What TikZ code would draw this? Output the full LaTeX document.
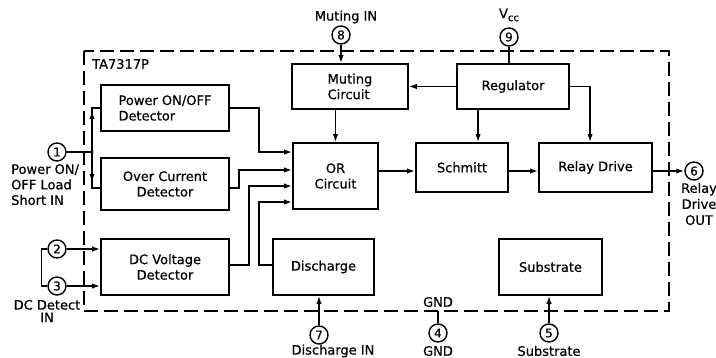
\documentclass[tikz,border=0pt]{standalone}
\usepackage{fontspec}
\setmainfont{DejaVu Sans}[FakeBold=0.6,AutoFakeBold=0.6]
\usetikzlibrary{arrows.meta,calc}
\newcommand\fsz{\fontsize{13}{15.5}\selectfont}
\begin{document}
\begin{tikzpicture}[x=1pt,y=-1pt,
  box/.style={draw,line width=1.9pt,inner sep=0pt,font=\fsz\bfseries,align=center},
  pin/.style={draw,circle,line width=1.4pt,minimum size=18pt,inner sep=0pt,font=\fontsize{12}{12}\selectfont\bfseries},
  lbl/.style={inner sep=0pt,font=\fsz\bfseries},
  conn/.style={line width=1.5pt},
  arr/.style={line width=1.5pt,-{Latex[length=8pt,width=5.5pt]}},
  border/.style={line width=1.9pt,dash pattern=on 14pt off 6pt}]
\useasboundingbox (0,0) rectangle (716,358);
% border
\draw[border] (84,51) rectangle (669,311);
\node[lbl,anchor=west] (title) at (92,64) {TA7317P};
% boxes
\node[box,minimum width=128pt,minimum height=46pt,align=left] (PD) at (165,108) {Power ON/OFF\\Detector};
\node[box,minimum width=128pt,minimum height=52pt] (OC) at (165,184) {Over Current\\Detector};
\node[box,minimum width=128pt,minimum height=56pt] (DC) at (165,267) {DC Voltage\\Detector};
\node[box,minimum width=116pt,minimum height=45pt,align=left] (MU) at (350,86.5) {Muting\\Circuit};
\node[box,minimum width=112pt,minimum height=45pt] (RG) at (513,86.5) {Regulator};
\node[box,minimum width=85pt,minimum height=66pt] (OR) at (335.5,176) {OR\\Circuit};
\node[box,minimum width=92pt,minimum height=49pt] (SC) at (462,167.5) {Schmitt};
\node[box,minimum width=113pt,minimum height=49pt] (RD) at (595.5,167.5) {Relay Drive};
\node[box,minimum width=101pt,minimum height=56pt] (DS) at (323.5,267) {Discharge};
\node[box,minimum width=103pt,minimum height=56pt] (SB) at (550.5,267) {Substrate};
% pins
\node[pin] (p1) at (57,152) {1};
\node[pin] (p2) at (57,249) {2};
\node[pin] (p3) at (57,286) {3};
\node[pin] (p4) at (438,333) {4};
\node[pin] (p5) at (549,333) {5};
\node[pin] (p6) at (694,171) {6};
\node[pin] (p7) at (319,335) {7};
\node[pin] (p8) at (341,35) {8};
\node[pin] (p9) at (509,37) {9};
% pin labels
\node[lbl] (l8) at (346,17) {Muting IN};
\node[lbl] (l9) at (509,15) {V\raisebox{-3pt}{\fontsize{10}{10}\selectfont\bfseries cc}};
\node[lbl,align=left,anchor=north west] (l1) at (11,164) {Power ON/\\OFF Load\\Short IN};
\node[lbl,align=center,font=\fontsize{13}{12.5}\selectfont\bfseries] (l23) at (47,311) {DC Detect\\IN};
\node[lbl,align=center,font=\fontsize{13}{16}\selectfont\bfseries] (l6) at (699,204) {Relay\\Drive\\OUT};
\node[lbl] (l7) at (333,351) {Discharge IN};
\node[lbl] (l4) at (438,351) {GND};
\node[lbl] (l4b) at (438,302) {GND};
\node[lbl] (l5) at (549,351) {Substrate};
% helper coordinates
\coordinate (sig) at (0,171);
\coordinate (j1) at (92,152);
\coordinate (bb) at (0,311);
% pin 1 split
\draw[conn] (p1.east) -- (j1);
\fill (j1) circle (1.6pt);
\draw[conn] (j1) |- (PD.west);
\draw[arr] (j1) -- ++(0,-41);
\draw[conn] (j1) |- ($(OC.west)+(0,4)$);
\draw[arr] (j1) -- ++(0,30);
% pins 2,3
\draw[arr] (p2.east) -- (DC.west |- p2.east);
\draw[arr] (p3.east) -- (DC.west |- p3.east);
\draw[conn] (p2.west) -- ++(-6,0) |- (p3.west);
% into OR
\draw[arr] (PD.east) -- ++(29,0) |- ($(OR.north west)+(0,10)$);
\draw[arr] ($(OC.east)+(0,4)$) -- ++(9,0) |- ($(OR.north west)+(0,28)$);
\draw[arr] ($(DC.east)+(0,-2)$) -- ++(19,0) |- ($(OR.north west)+(0,44)$);
\draw[arr] ($(DS.west)+(0,-2)$) -- ++(-13,0) |- ($(OR.north west)+(0,60)$);
\draw[arr] (MU.south -| OR.north) -- (OR.north);
% chain
\draw[arr] (OR.east |- sig) -- (SC.west |- sig);
\draw[arr] (SC.east |- sig) -- (RD.west |- sig);
\draw[arr] (RD.east |- sig) -- (p6.west);
% regulator
\draw[arr] (RG.west) -- (MU.east);
\coordinate (rgs) at ($(RG.south west)+(22,0)$);
\draw[arr] (rgs) -- (rgs |- SC.north);
\draw[arr] (RG.east) -| ($(RD.north west)+(52,0)$);
% top pins
\draw[arr] (p8.south) -- (p8.south |- MU.north);
\draw[conn] (p9.south) -- (p9.south |- RG.north);
% bottom pins
\draw[arr] (p7.north) -- (p7.north |- DS.south);
\draw[conn] (p4.north) -- (p4.north |- bb);
\draw[arr] (p5.north) -- (p5.north |- SB.south);
\end{tikzpicture}
\end{document}
